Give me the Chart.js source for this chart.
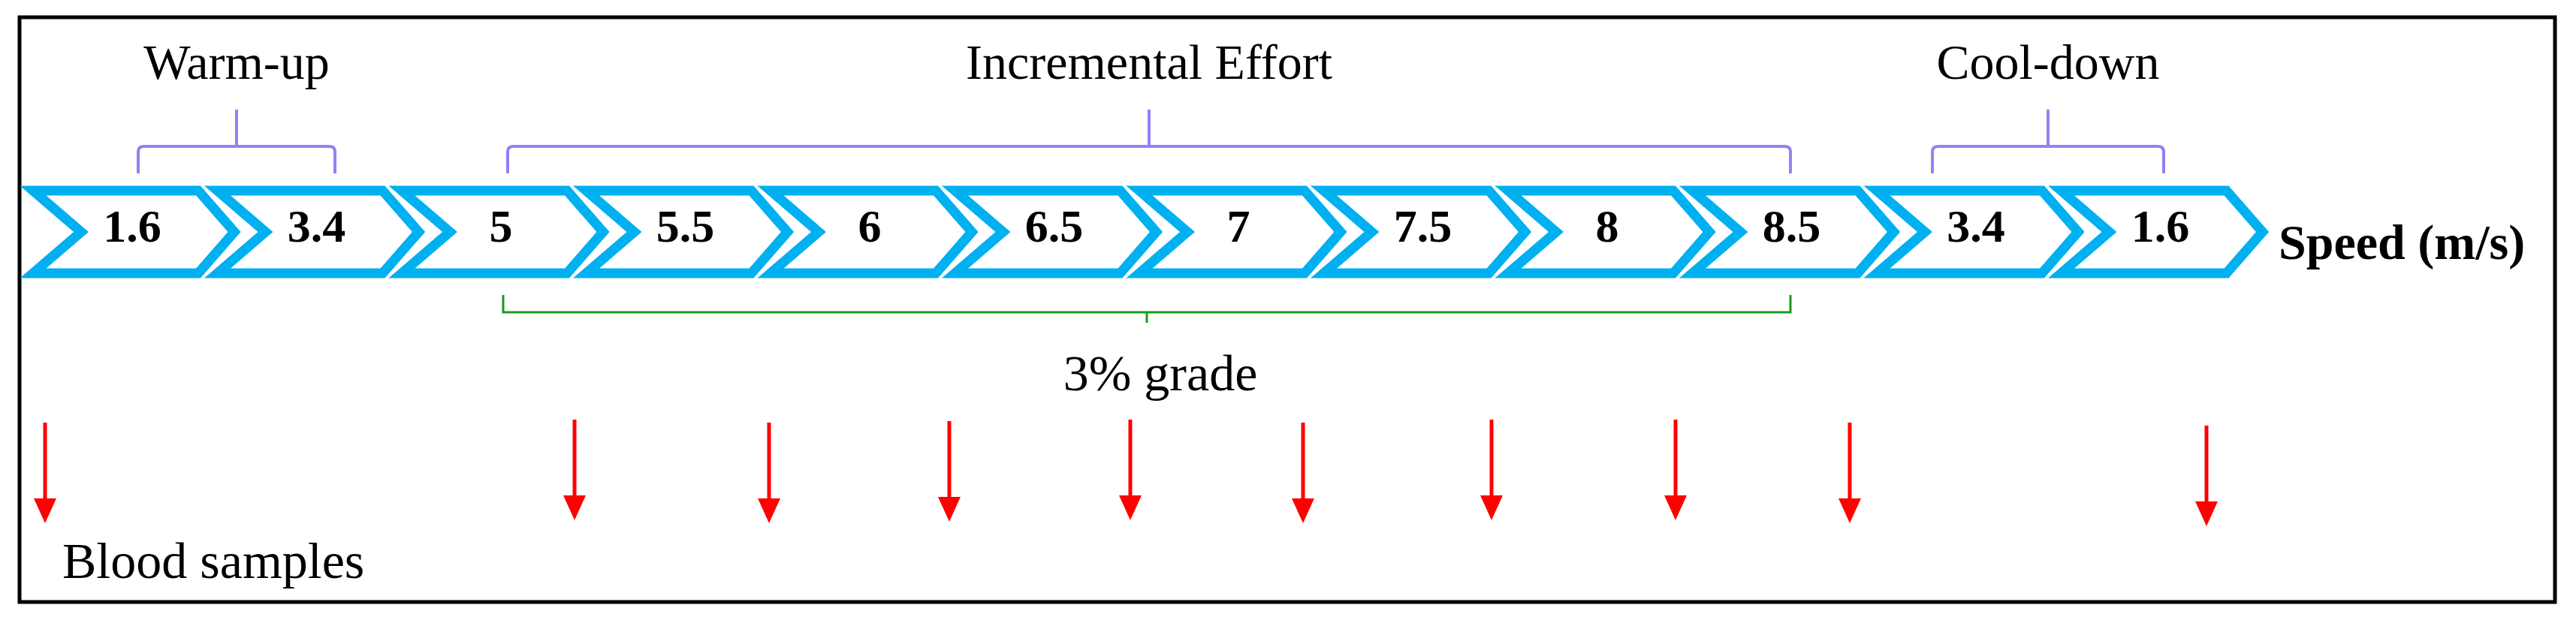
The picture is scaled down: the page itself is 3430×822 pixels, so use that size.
<!DOCTYPE html>
<html>
<head>
<meta charset="utf-8">
<script src="https://cdn.jsdelivr.net/npm/chart.js@4/dist/chart.umd.min.js"></script>
<style>
  html, body { margin: 0; padding: 0; background: #fff; }
  #wrap { width: 3430px; height: 822px; }
</style>
</head>
<body>
<div id="wrap"><canvas id="protocol"></canvas></div>
<script>
// stages of the treadmill protocol, in order
const speeds = ['1.6', '3.4', '5', '5.5', '6', '6.5', '7', '7.5', '8', '8.5', '3.4', '1.6'];
const phaseNames = ['Warm-up', 'Incremental Effort', 'Cool-down'];
const phaseStart = [184, 676, 2573];
const phaseEnd = [446, 2384, 2881];
const gradeLabel = '3% grade';
const gradeStart = 670;
const gradeEnd = 2384;
// blood samples: x position along the strip and top of each arrow
const sampleX = [60, 765, 1024, 1264, 1505, 1735, 1986, 2231, 2463, 2938];
const sampleTop = [563, 559, 563, 561, 559, 563, 559, 559, 563, 567];
const axisTitle = 'Speed (m/s)';
const sampleTitle = 'Blood samples';

const SERIF = '"Liberation Serif", "Times New Roman", serif';
const stageLeft = i => 38 + i * 245.5;

const diagram = {
  id: 'diagram',
  afterDatasetsDraw(chart) {
    const c = chart.ctx, xs = chart.scales.x, ys = chart.scales.y;
    const X = v => xs.getPixelForValue(v), Y = v => ys.getPixelForValue(v);
    c.save();

    // frame
    c.strokeStyle = '#000'; c.lineWidth = 5;
    c.strokeRect(X(26), Y(23), X(3402) - X(26), Y(802) - Y(23));

    // chevrons
    c.strokeStyle = '#00b0f0'; c.lineWidth = 13; c.lineJoin = 'miter';
    speeds.forEach((s, i) => {
      const l = stageLeft(i);
      c.beginPath();
      c.moveTo(X(l + 6), Y(254));
      c.lineTo(X(l + 226), Y(254));
      c.lineTo(X(l + 274), Y(309));
      c.lineTo(X(l + 226), Y(364));
      c.lineTo(X(l + 6), Y(364));
      c.lineTo(X(l + 70), Y(309));
      c.closePath();
      c.stroke();
    });
    c.fillStyle = '#000'; c.textAlign = 'center'; c.textBaseline = 'middle';
    c.font = 'bold 62px ' + SERIF;
    speeds.forEach((s, i) => c.fillText(s, X(stageLeft(i) + 138), Y(306)));
    c.textAlign = 'left';
    c.font = 'bold 66px ' + SERIF;
    c.fillText(axisTitle, X(3034), Y(328));

    // phase brackets
    c.lineWidth = 4; c.strokeStyle = '#9580f2';
    phaseNames.forEach((n, k) => {
      const a = phaseStart[k], b = phaseEnd[k], m = (a + b) / 2;
      c.beginPath();
      c.moveTo(X(a), Y(231)); c.lineTo(X(a), Y(202));
      c.quadraticCurveTo(X(a), Y(195), X(a + 8), Y(195));
      c.lineTo(X(b - 8), Y(195));
      c.quadraticCurveTo(X(b), Y(195), X(b), Y(202));
      c.lineTo(X(b), Y(231));
      c.moveTo(X(m), Y(195)); c.lineTo(X(m), Y(146));
      c.stroke();
      c.textAlign = 'center';
      c.font = '66px ' + SERIF;
      c.fillText(n, X(m), Y(88));
    });

    // grade bracket
    const gm = (gradeStart + gradeEnd) / 2;
    c.strokeStyle = '#1a9a1a'; c.lineWidth = 3;
    c.beginPath();
    c.moveTo(X(gradeStart), Y(393)); c.lineTo(X(gradeStart), Y(416));
    c.lineTo(X(gradeEnd), Y(416)); c.lineTo(X(gradeEnd), Y(393));
    c.moveTo(X(gm), Y(416)); c.lineTo(X(gm), Y(430));
    c.stroke();
    c.font = '68px ' + SERIF;
    c.fillText(gradeLabel, X(1545), Y(502));

    // blood sample arrows
    c.strokeStyle = '#ff0000'; c.fillStyle = '#ff0000'; c.lineWidth = 5;
    sampleX.forEach((x, i) => {
      const tip = sampleTop[i] + 134;
      c.beginPath();
      c.moveTo(X(x), Y(sampleTop[i])); c.lineTo(X(x), Y(tip - 25));
      c.stroke();
      c.beginPath();
      c.moveTo(X(x - 15), Y(tip - 33)); c.lineTo(X(x + 15), Y(tip - 33)); c.lineTo(X(x), Y(tip));
      c.closePath(); c.fill();
    });
    c.fillStyle = '#000'; c.textAlign = 'left';
    c.font = '68px ' + SERIF;
    c.fillText(sampleTitle, X(83), Y(752));

    c.restore();
  }
};

new Chart(document.getElementById('protocol'), {
  type: 'scatter',
  data: { datasets: [{ data: sampleX.map((x, i) => ({ x: x, y: sampleTop[i] })), pointRadius: 0 }] },
  options: {
    responsive: true,
    maintainAspectRatio: false,
    animation: false,
    layout: { padding: 0 },
    plugins: { legend: { display: false }, tooltip: { enabled: false } },
    scales: {
      x: { type: 'linear', min: 0, max: 3430, display: false },
      y: { type: 'linear', min: 0, max: 822, reverse: true, display: false }
    }
  },
  plugins: [diagram]
});
</script>
</body>
</html>
